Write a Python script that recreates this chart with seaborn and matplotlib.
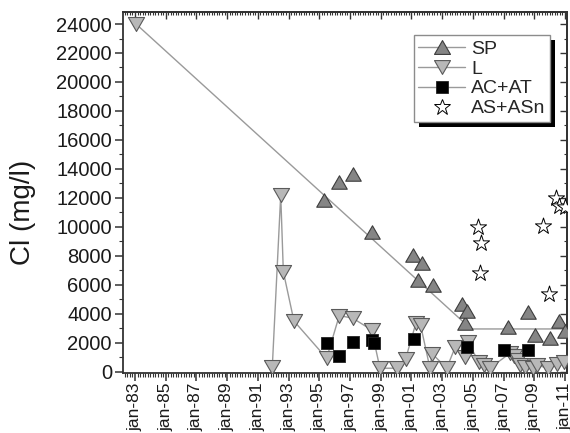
import matplotlib
matplotlib.use("Agg")
import matplotlib.pyplot as plt
import pandas as pd
import seaborn as sns
from matplotlib.path import Path
from matplotlib.lines import Line2D
from matplotlib.patches import Rectangle
from matplotlib.ticker import MultipleLocator, FixedLocator, FuncFormatter
from matplotlib.transforms import IdentityTransform

# ---- data: chloride concentration (mg/l) by sampling date (decimal year) ----
sp_year = [1995.30, 1996.30, 1997.17, 1998.41, 2001.12, 2001.44, 2001.66, 2002.42,
           2004.27, 2004.48, 2004.59, 2007.30, 2008.58, 2009.04, 2010.02, 2010.60, 2010.99]
sp_cl = [11850, 13110, 13640, 9660, 8050, 6330, 7520, 5985,
         4650, 3340, 4210, 3105, 4100, 2530, 2340, 3520, 2800]

l_year = [1983.07, 1991.94, 1992.49, 1992.66, 1993.35, 1995.48, 1996.30, 1997.17,
          1998.41, 1998.95, 2000.04, 2000.62, 2001.30, 2001.60, 2002.20, 2002.36,
          2003.30, 2003.85, 2004.48, 2004.70, 2005.38, 2005.70, 2006.10, 2007.41,
          2007.65, 2007.96, 2008.10, 2008.40, 2008.94, 2009.15, 2009.90, 2010.50, 2010.95]
l_cl = [24000, 300, 12200, 6900, 3500, 925, 3870, 3700,
        2880, 240, 240, 880, 3380, 3200, 280, 1230,
        240, 1700, 1035, 2070, 650, 450, 240, 1270,
        1085, 810, 460, 345, 235, 460, 235, 500, 650]

acat_year = [1995.48, 1996.30, 1997.17, 1998.41, 1998.56, 2001.16, 2004.60, 2007.05, 2008.60]
acat_cl = [2000, 1085, 2070, 2190, 2000, 2235, 1680, 1500, 1530]

asasn_year = [2005.35, 2005.50, 2005.45, 2009.58, 2009.95, 2010.41, 2010.62, 2011.00]
asasn_cl = [10000, 8860, 6830, 10050, 5360, 11970, 11430, 11390]

# guide line running from the 1983 value down to the recent plateau
guide_year = [1983.07, 2004.48, 2004.90, 2011.20]
guide_cl = [24000, 3340, 2950, 2950]

# labelled January ticks every two years
tick_years = list(range(1983, 2012, 2))
tick_labels = [f"jan-{y % 100:02d}" for y in tick_years]

sp = pd.DataFrame({"year": sp_year, "cl": sp_cl})
lw = pd.DataFrame({"year": l_year, "cl": l_cl})
ac = pd.DataFrame({"year": acat_year, "cl": acat_cl})
asn = pd.DataFrame({"year": asasn_year, "cl": asasn_cl})
guide = pd.DataFrame({"year": guide_year, "cl": guide_cl})

sns.set_theme(style="ticks")
plt.rcParams["font.family"] = ["Liberation Sans", "DejaVu Sans"]

# triangles with their bounding box centred on the data point
tri_up = Path([(-1, -0.866), (1, -0.866), (0, 0.866), (-1, -0.866)],
              [Path.MOVETO, Path.LINETO, Path.LINETO, Path.CLOSEPOLY])
tri_dn = Path([(-1, 0.866), (1, 0.866), (0, -0.866), (-1, 0.866)],
              [Path.MOVETO, Path.LINETO, Path.LINETO, Path.CLOSEPOLY])

SP_FILL, SP_EDGE = "#858585", "#3c3c3c"
L_FILL, L_EDGE = "#b8b8b8", "#5a5a5a"
LINE_C = "#9a9a9a"
AX_C = "#333333"

fig = plt.figure(figsize=(5.7, 4.33), dpi=100)
ax = fig.add_axes([123 / 570, 1 - 373 / 433, 444 / 570, 361 / 433])

# connecting lines
sns.lineplot(data=guide, x="year", y="cl", sort=False, estimator=None,
             color=LINE_C, lw=1.0, ax=ax, zorder=1)
sns.lineplot(data=lw.iloc[1:], x="year", y="cl", sort=False, estimator=None,
             color=LINE_C, lw=1.0, ax=ax, zorder=1)

# markers
sns.scatterplot(data=sp, x="year", y="cl", marker=tri_up, s=125,
                color=SP_FILL, edgecolor=SP_EDGE, linewidth=0.8, ax=ax, zorder=3)
sns.scatterplot(data=lw, x="year", y="cl", marker=tri_dn, s=135,
                color=L_FILL, edgecolor=L_EDGE, linewidth=0.8, ax=ax, zorder=4)
sns.scatterplot(data=ac, x="year", y="cl", marker="s", s=72,
                color="black", edgecolor="#222222", linewidth=0.6, ax=ax, zorder=5)
sns.scatterplot(data=asn, x="year", y="cl", marker="*", s=150,
                color="white", edgecolor="black", linewidth=0.7, ax=ax, zorder=6)

# axes limits and ticks
ax.set_xlim(1982.22, 2011.13)
ax.set_ylim(-90, 24830)
ax.xaxis.set_major_locator(FixedLocator(tick_years))
ax.set_xticklabels(tick_labels)
ax.xaxis.set_minor_locator(MultipleLocator(1 / 6))
ax.yaxis.set_major_locator(MultipleLocator(2000))
ax.yaxis.set_minor_locator(MultipleLocator(1000))
ax.yaxis.set_major_formatter(FuncFormatter(lambda v, p: f"{int(round(v))}"))

ax.tick_params(axis="both", which="major", direction="out", length=6, width=1.1,
               color=AX_C, labelcolor="#1a1a1a")
ax.tick_params(axis="y", which="major", labelsize=14.5, pad=2)
ax.tick_params(axis="x", which="major", labelsize=12.5, labelrotation=90, pad=1)
ax.tick_params(axis="both", which="minor", direction="out", length=3, width=0.8, color=AX_C)

# mirrored ticks pointing inward on top and right
top = ax.secondary_xaxis("top")
top.xaxis.set_major_locator(FixedLocator(tick_years))
top.xaxis.set_minor_locator(MultipleLocator(1 / 6))
top.tick_params(which="major", direction="in", length=5, width=1.0, color=AX_C, labeltop=False)
top.tick_params(which="minor", direction="in", length=2.5, width=0.8, color=AX_C)
right = ax.secondary_yaxis("right")
right.yaxis.set_major_locator(MultipleLocator(2000))
right.yaxis.set_minor_locator(MultipleLocator(1000))
right.tick_params(which="major", direction="in", length=5, width=1.0, color=AX_C, labelright=False)
right.tick_params(which="minor", direction="in", length=2.5, width=0.8, color=AX_C)

for sec in (top, right):
    for s in sec.spines.values():
        s.set_color(AX_C)
        s.set_linewidth(1.3)
for s in ax.spines.values():
    s.set_visible(True)
    s.set_color(AX_C)
    s.set_linewidth(1.3)

ax.set_xlabel("")
ax.set_ylabel("Cl (mg/l)", fontsize=20, color="#1a1a1a")
ax.yaxis.label.set_va("center")
ax.yaxis.set_label_coords(-0.225, 0.446)

# legend
handles = [
    Line2D([], [], color=LINE_C, lw=1.0, marker=tri_up, ms=11.5,
           mfc=SP_FILL, mec=SP_EDGE, mew=0.8),
    Line2D([], [], color=LINE_C, lw=1.0, marker=tri_dn, ms=11.5,
           mfc=L_FILL, mec=L_EDGE, mew=0.8),
    Line2D([], [], color=LINE_C, lw=1.0, marker="s", ms=8.5,
           mfc="black", mec="#222222", mew=0.6),
    Line2D([], [], ls="none", marker="*", ms=12,
           mfc="white", mec="black", mew=0.7),
]
leg = ax.legend(handles, ["SP", "L", "AC+AT", "AS+ASn"], loc="upper right",
                bbox_to_anchor=(0.962, 0.936), borderaxespad=0, fontsize=14,
                frameon=True, fancybox=False, framealpha=1, edgecolor="#8c8c8c",
                handlelength=2.4, handletextpad=0.3, borderpad=0.25,
                labelspacing=0.12)
leg.get_frame().set_linewidth(1.0)
leg.set_zorder(10)

# solid drop shadow behind the legend box
fig.canvas.draw()
bb = leg.get_frame().get_window_extent()
shadow = Rectangle((bb.x0 + 5, bb.y0 - 5), bb.width, bb.height, transform=IdentityTransform(),
                   facecolor="black", edgecolor="none", zorder=9, clip_on=False)
ax.add_artist(shadow)

fig.savefig("out.png", dpi=100, facecolor="white")
